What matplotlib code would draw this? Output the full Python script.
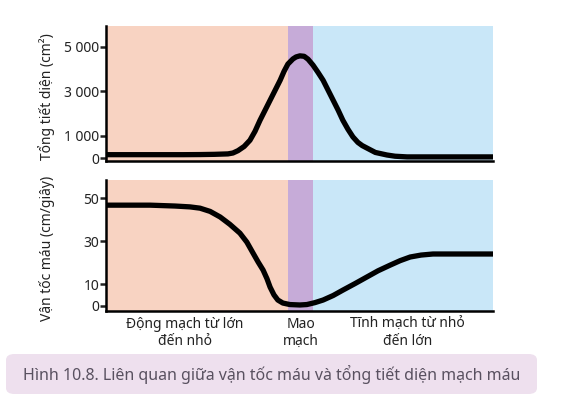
import numpy as np
import matplotlib
matplotlib.use('Agg')
import matplotlib.pyplot as plt
from matplotlib import font_manager
from matplotlib.patches import FancyBboxPatch

##################################
# Values
##################################

# shared x scale: 0 = left edge of the plot, 100 = right edge
region_edges = [0, 47.0, 53.4, 100]      # động mạch / mao mạch / tĩnh mạch
region_colors = ['#F8D3C2', '#C6ABD8', '#C9E7F8']

area_x = [0, 20, 24.3, 28.0, 31.5, 32.8, 34.1, 35.7, 37.2, 38.5, 39.8, 41.1, 42.4, 43.7,
          45.0, 46.0, 47.0, 48.3, 49.1, 50.1, 51.2, 52.2, 53.5, 54.8, 56.1, 57.4, 58.7,
          60.0, 61.2, 62.5, 63.8, 65.1, 66.2, 67.4, 69.6, 72.6, 74.7, 77.8, 100]
area_y = [150, 150, 155, 165, 185, 225, 330, 520, 800, 1200, 1700, 2150, 2600, 3050,
          3500, 3900, 4230, 4460, 4550, 4600, 4580, 4450, 4180, 3850, 3500, 3050, 2600,
          2150, 1700, 1300, 950, 700, 560, 450, 250, 135, 80, 50, 50]

speed_x = [0, 11.4, 17.8, 21.7, 24.3, 26.9, 29.5, 32.0, 34.6, 36.4, 38.0, 39.3, 40.6,
           41.6, 42.4, 43.4, 44.4, 45.7, 47.5, 50.1, 51.9, 54.0, 56.1, 58.7, 61.2, 64.3,
           67.4, 70.3, 73.4, 76.0, 78.6, 81.4, 84.5, 100]
speed_y = [46.7, 46.7, 46.3, 45.9, 45.3, 43.8, 41.2, 37.8, 33.7, 29.5, 24.4, 20.3, 16.5,
           12.5, 8.6, 5.0, 2.6, 1.2, 0.5, 0.3, 0.5, 1.4, 2.6, 4.7, 7.2, 10.2,
           13.3, 16.2, 18.8, 20.9, 22.6, 23.5, 24.0, 24.0]

area_ticks = [0, 1000, 3000, 5000]
area_labels = ['0', '1 000', '3 000', '5 000']
speed_ticks = [0, 10, 30, 50]

cat_labels = ['Động mạch từ lớn\nđến nhỏ', 'Mao\nmạch', 'Tĩnh mạch từ nhỏ\nđến lớn']
cat_pos = [20.4, 50.4, 78.0]

caption = 'Hình 10.8. Liên quan giữa vận tốc máu và tổng tiết diện mạch máu'

##################################
# Fonts
##################################
installed = {f.name for f in font_manager.fontManager.ttflist}
main_font = 'Noto Sans' if 'Noto Sans' in installed else 'DejaVu Sans'
plt.rcParams['font.family'] = [main_font, 'DejaVu Sans']

W, H = 563, 405
fig = plt.figure(figsize=(W / 100, H / 100), dpi=100)

def px_axes(left, top, right, bottom):
    return fig.add_axes([left / W, 1 - bottom / H, (right - left) / W, (bottom - top) / H])

ax1 = px_axes(106, 26, 493, 161)
ax2 = px_axes(106, 180, 493, 311)

def style(ax):
    for i in range(3):
        ax.axvspan(region_edges[i], region_edges[i + 1], color=region_colors[i], lw=0, zorder=0)
    ax.set_xlim(0, 100)
    ax.spines['top'].set_visible(False)
    ax.spines['right'].set_visible(False)
    ax.spines['left'].set_linewidth(1.8)
    ax.spines['bottom'].set_linewidth(1.8)
    ax.set_xticks([])
    ax.tick_params(axis='y', length=4, width=1.8, labelsize=10, pad=1, colors='#222222')

style(ax1)
ax1.plot(area_x, area_y, color='black', lw=3.8, solid_joinstyle='round', solid_capstyle='butt', zorder=3)
ax1.set_ylim(-135, 5944)
ax1.set_yticks(area_ticks)
ax1.set_yticklabels(area_labels)

style(ax2)
ax2.plot(speed_x, speed_y, color='black', lw=3.8, solid_joinstyle='round', solid_capstyle='butt', zorder=3)
ax2.set_ylim(-2.5, 58.4)
ax2.set_yticks(speed_ticks)

fig.text(47 / W, 1 - 97 / H, 'Tổng tiết diện (cm²)', rotation=90, ha='center', va='center',
         fontsize=10, color='#222222')
fig.text(47 / W, 1 - 248 / H, 'Vận tốc máu (cm/giây)', rotation=90, ha='center', va='center',
         fontsize=10, color='#222222')

for lab, xp in zip(cat_labels, cat_pos):
    ax2.text(xp, -0.045, lab, transform=ax2.get_xaxis_transform(), ha='center', va='top',
             fontsize=10, color='#222222', linespacing=1.2)

# caption box
box = FancyBboxPatch((6 / W, 1 - 394 / H), 531 / W, 40 / H,
                     boxstyle='round,pad=0,rounding_size=0.015',
                     transform=fig.transFigure, facecolor='#EEE0EE', edgecolor='none')
fig.patches.append(box)
fig.text(23 / W, 1 - 374 / H, caption, ha='left', va='center', fontsize=11.5,
         color='#595160')

fig.savefig('out.png', dpi=100)
